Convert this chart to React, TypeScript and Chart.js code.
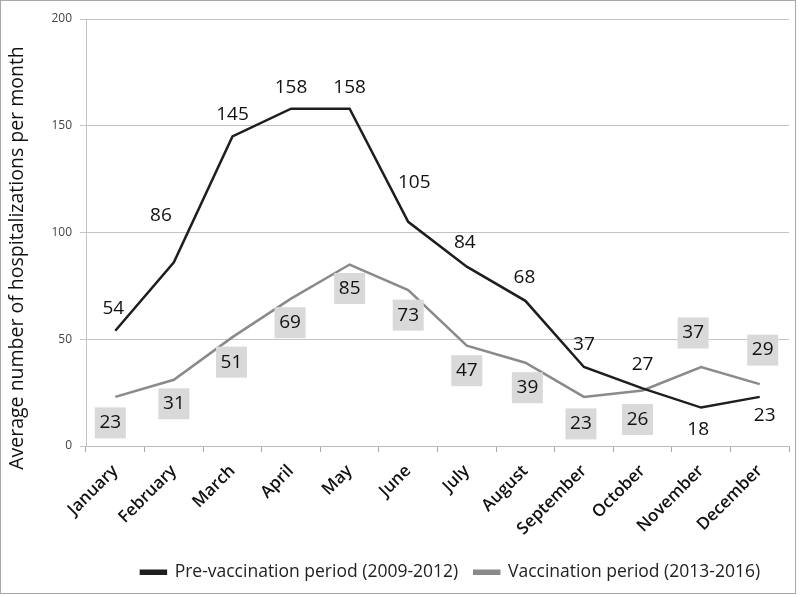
import React, { useEffect, useRef } from "react";
import { Chart, registerables } from "chart.js";

Chart.register(...registerables);

const months = ["January", "February", "March", "April", "May", "June", "July", "August", "September", "October", "November", "December"];
const preVaccination = [54, 86, 145, 158, 158, 105, 84, 68, 37, 27, 18, 23];
const vaccination = [23, 31, 51, 69, 85, 73, 47, 39, 23, 26, 37, 29];
const yTicks = [0, 50, 100, 150, 200];

const preLabelOffsets: [number, number][] = [[-2, -22], [-13, -47], [0, -22], [0, -21], [0, -21], [6, -39], [-2, -24], [-1, -23], [0, -22], [0, -24], [-3, 22], [5, 19]];
const vacLabelOffsets: [number, number][] = [[-5, 26], [0, 24], [-1, 25], [-1, 24], [0, 24], [0, 25], [0, 25], [2, 25], [-3, 27], [-5, 29], [-8, -34], [3, -34]];

const FONT = "'Open Sans', 'DejaVu Sans', sans-serif";
const LEGEND_SHIFT = 56;

const labelPlugin = {
  id: "pointLabels",
  afterDatasetsDraw(chart: any) {
    const ctx = chart.ctx;
    ctx.save();
    ctx.font = `19px ${FONT}`;
    ctx.textAlign = "center";
    ctx.textBaseline = "middle";
    const m0 = chart.getDatasetMeta(0);
    m0.data.forEach((pt: any, i: number) => {
      const [dx, dy] = preLabelOffsets[i];
      ctx.fillStyle = "#111";
      ctx.fillText(String(preVaccination[i]), pt.x + dx, pt.y + dy);
    });
    const m1 = chart.getDatasetMeta(1);
    m1.data.forEach((pt: any, i: number) => {
      const [dx, dy] = vacLabelOffsets[i];
      const cx = pt.x + dx;
      const cy = pt.y + dy;
      ctx.fillStyle = "#d9d9d9";
      ctx.fillRect(cx - 15.5, cy - 15.5, 31, 31);
      ctx.fillStyle = "#111";
      ctx.fillText(String(vaccination[i]), cx, cy);
    });
    ctx.restore();
  },
};

const framePlugin = {
  id: "frameAndTitle",
  afterLayout(chart: any) {
    if (chart.legend) {
      chart.legend.left += LEGEND_SHIFT;
      chart.legend.right += LEGEND_SHIFT;
    }
  },
  beforeDraw(chart: any) {
    const ctx = chart.ctx;
    ctx.save();
    ctx.fillStyle = "#fff";
    ctx.fillRect(0, 0, chart.width, chart.height);
    ctx.strokeStyle = "#a8a8a8";
    ctx.lineWidth = 1;
    ctx.strokeRect(0.5, 0.5, 795, 593);
    ctx.restore();
  },
  afterDraw(chart: any) {
    const ctx = chart.ctx;
    ctx.save();
    ctx.translate(17, 258);
    ctx.rotate(-Math.PI / 2);
    ctx.font = `19.5px ${FONT}`;
    ctx.fillStyle = "#111";
    ctx.textAlign = "center";
    ctx.textBaseline = "middle";
    ctx.fillText("Average number of hospitalizations per month", 0, 0);
    ctx.restore();
  },
};

export default function App() {
  const ref = useRef<HTMLCanvasElement | null>(null);
  useEffect(() => {
    if (!ref.current) return;
    const chart = new Chart(ref.current, {
      type: "line",
      data: {
        labels: months,
        datasets: [
          {
            label: "Pre-vaccination period (2009-2012)",
            data: preVaccination,
            borderColor: "#1e1e1e",
            backgroundColor: "#1e1e1e",
            borderWidth: 2.5,
            pointRadius: 0,
            tension: 0,
          },
          {
            label: "Vaccination period (2013-2016)",
            data: vaccination,
            borderColor: "#8a8a8a",
            backgroundColor: "#8a8a8a",
            borderWidth: 2.5,
            pointRadius: 0,
            tension: 0,
          },
        ],
      },
      options: {
        animation: false,
        responsive: true,
        maintainAspectRatio: false,
        layout: { padding: { left: 0, top: 19, right: 11, bottom: 6 } },
        plugins: {
          legend: {
            position: "bottom",
            labels: {
              boxWidth: 25,
              boxHeight: 3,
              padding: 16,
              color: "#222",
              font: { family: FONT, size: 17.5 },
            },
          },
          tooltip: { enabled: false },
        },
        scales: {
          x: {
            offset: true,
            grid: { offset: true, drawOnChartArea: false, drawTicks: true, tickLength: 6, color: "#aaa" },
            border: { color: "#bbb" },
            ticks: {
              minRotation: 45,
              maxRotation: 45,
              padding: 9,
              color: "#111",
              font: { family: FONT, size: 17, weight: 600 },
            },
            afterFit: (s: any) => {
              const c = s.chart;
              s.height = c.height - 6 - (c.legend ? c.legend.height : 0) - 446;
            },
          },
          y: {
            min: 0,
            max: 200,
            afterBuildTicks: (s: any) => {
              s.ticks = yTicks.map((v) => ({ value: v }));
            },
            grid: { color: "#c4c4c4", tickLength: 6 },
            border: { color: "#c4c4c4" },
            ticks: {
              padding: 8,
              color: "#444",
              font: { family: FONT, size: 12 },
            },
            afterFit: (s: any) => {
              s.width = 86;
            },
          },
        },
      },
      plugins: [labelPlugin, framePlugin],
    });
    return () => chart.destroy();
  }, []);
  return (
    <div style={{ position: "absolute", left: 0, top: 0, width: 800, height: 597 }}>
      <canvas ref={ref} />
    </div>
  );
}
